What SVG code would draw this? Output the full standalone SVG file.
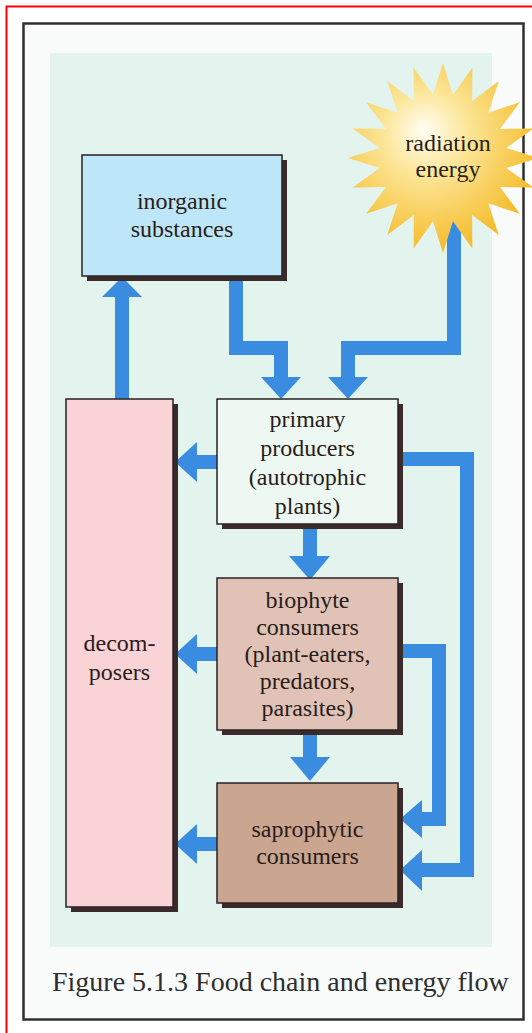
<svg xmlns="http://www.w3.org/2000/svg" width="532" height="1033" viewBox="0 0 532 1033">
<defs>
<radialGradient id="sunGrad" cx="0.42" cy="0.4" r="0.6" fx="0.4" fy="0.35">
<stop offset="0" stop-color="#fffef4"/>
<stop offset="0.35" stop-color="#fce79c"/>
<stop offset="1" stop-color="#f5bb28"/>
</radialGradient>
</defs>
<style>
.lbl{font-family:"Liberation Serif","Times New Roman",serif;font-size:24px;fill:#2a1c19;text-anchor:middle}
.cap{font-family:"Liberation Serif","Times New Roman",serif;font-size:28px;fill:#2e2e2e}
.shadow{fill:#3a2b2a}
.box{stroke:#2a2222;stroke-width:1.5}
.shaft{fill:none;stroke:#3a8ce0;stroke-width:14;stroke-linejoin:miter}
.head{fill:#3a8ce0}
</style>
<rect x="0" y="0" width="532" height="1033" fill="#ffffff"/>
<rect x="6.5" y="6.5" width="600" height="1100" fill="none" stroke="#ff0000" stroke-width="2"/>
<rect x="23.5" y="23.5" width="500" height="996" fill="#f9fcfb" stroke="#2e2e2e" stroke-width="2.5"/>
<rect x="50" y="53" width="442" height="894" fill="#e3f3ee"/>

<g id="connectors">
<path class="shaft" d="M122 399V296"/>
<polygon class="head" points="102,297 142,297 122,277"/>
<path class="shaft" d="M236 276V348H281V378"/>
<polygon class="head" points="261,377 301,377 281,399"/>
<path class="shaft" d="M454 215V348H348V378"/>
<polygon class="head" points="328,377 368,377 348,399"/>
<path class="shaft" d="M217 462H196"/>
<polygon class="head" points="197,442 197,482 175,462"/>
<path class="shaft" d="M310 524V557"/>
<polygon class="head" points="289,556 330,556 310,580"/>
<path class="shaft" d="M217 654H196"/>
<polygon class="head" points="197,634 197,674 175,654"/>
<path class="shaft" d="M310 730V758"/>
<polygon class="head" points="290,757 330,757 310,781"/>
<path class="shaft" d="M217 844H196"/>
<polygon class="head" points="197,824 197,864 175,844"/>
<path class="shaft" d="M398 459H467V870H420"/>
<polygon class="head" points="422,850 422,891 400,870"/>
<path class="shaft" d="M398 651H439V819H420"/>
<polygon class="head" points="422,800 422,838 400,819"/>
</g>

<g id="sun">
<polygon fill="url(#sunGrad)" points="443,63 453,94.8 472.4,67.6 472.1,101 498.8,81.1 488.3,112.7 519.9,102.2 500,128.9 533.4,128.6 506.2,148 538,158 506.2,168 533.4,187.4 500,187.1 519.9,213.8 488.3,203.3 498.8,234.9 472.1,215 472.4,248.4 453,221.2 443,253 433,221.2 413.6,248.4 413.9,215 387.2,234.9 397.7,203.3 366.1,213.8 386,187.1 352.6,187.4 379.8,168 348,158 379.8,148 352.6,128.6 386,128.9 366.1,102.2 397.7,112.7 387.2,81.1 413.9,101 413.6,67.6 433,94.8"/>
<text class="lbl" x="448" y="151" style="font-family:'Liberation Serif',serif !important">radiation</text>
<text class="lbl" x="448" y="177" style="font-family:'Liberation Serif',serif !important">energy</text>
</g>

<g id="inorganic">
<rect class="shadow" x="87" y="160" width="200" height="121"/>
<rect class="box" x="82" y="155" width="200" height="121" fill="#bde6f8"/>
<text class="lbl" x="182" y="209" style="font-family:'Liberation Serif',serif !important">inorganic</text>
<text class="lbl" x="182" y="237" style="font-family:'Liberation Serif',serif !important">substances</text>
</g>

<g id="decomposers">
<rect class="shadow" x="71" y="404" width="107" height="508"/>
<rect class="box" x="66" y="399" width="107" height="508" fill="#f9d3d5"/>
<text class="lbl" x="119.5" y="651" style="font-family:'Liberation Serif',serif !important">decom-</text>
<text class="lbl" x="119.5" y="680" style="font-family:'Liberation Serif',serif !important">posers</text>
</g>

<g id="primary">
<rect class="shadow" x="222" y="404" width="181" height="125"/>
<rect class="box" x="217" y="399" width="181" height="125" fill="#eef8f3"/>
<text class="lbl" x="307.5" y="427" style="font-family:'Liberation Serif',serif !important">primary</text>
<text class="lbl" x="307.5" y="456" style="font-family:'Liberation Serif',serif !important">producers</text>
<text class="lbl" x="307.5" y="485" style="font-family:'Liberation Serif',serif !important">(autotrophic</text>
<text class="lbl" x="307.5" y="514" style="font-family:'Liberation Serif',serif !important">plants)</text>
</g>

<g id="biophyte">
<rect class="shadow" x="222" y="583" width="181" height="152"/>
<rect class="box" x="217" y="578" width="181" height="152" fill="#e0c3b6"/>
<text class="lbl" x="307.5" y="608" style="font-family:'Liberation Serif',serif !important">biophyte</text>
<text class="lbl" x="307.5" y="635" style="font-family:'Liberation Serif',serif !important">consumers</text>
<text class="lbl" x="307.5" y="662" style="font-family:'Liberation Serif',serif !important">(plant-eaters,</text>
<text class="lbl" x="307.5" y="689" style="font-family:'Liberation Serif',serif !important">predators,</text>
<text class="lbl" x="307.5" y="716" style="font-family:'Liberation Serif',serif !important">parasites)</text>
</g>

<g id="saprophytic">
<rect class="shadow" x="222" y="788" width="181" height="120"/>
<rect class="box" x="217" y="783" width="181" height="120" fill="#caa691"/>
<text class="lbl" x="307.5" y="837" style="font-family:'Liberation Serif',serif !important">saprophytic</text>
<text class="lbl" x="307.5" y="864" style="font-family:'Liberation Serif',serif !important">consumers</text>
</g>

<text class="cap" x="52" y="991">Figure 5.1.3 Food chain and energy flow</text>
</svg>
